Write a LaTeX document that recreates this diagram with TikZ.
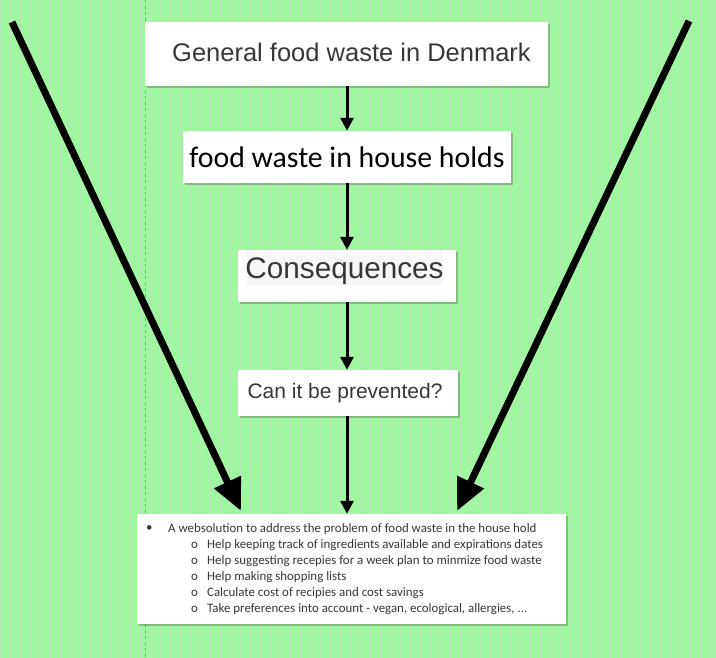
\documentclass[tikz,border=0pt]{standalone}
\usepackage{fontspec}
\setmainfont{Liberation Sans}
\newfontfamily\calib{Carlito}
\usetikzlibrary{arrows.meta,shadows}
\definecolor{bggreen}{RGB}{158,249,158}
\definecolor{gridgreen}{RGB}{178,232,178}
\definecolor{txtgray}{RGB}{55,55,55}
\tikzset{
  box/.style={draw=none,fill=white,inner sep=0pt,
    drop shadow={shadow xshift=2pt,shadow yshift=-2pt,opacity=0.35,fill=black!70}},
  flow/.style={-{Triangle[length=13pt,width=13pt]},line width=3pt,black},
  bigarrow/.style={-{Triangle[length=32pt,width=28pt]},line width=7pt,black},
}
\begin{document}
\begin{tikzpicture}[x=1pt,y=-1pt]
\useasboundingbox (0,0) rectangle (716,658);
\fill[bggreen] (0,0) rectangle (716,658);
\draw[gridgreen,line width=0.5pt,step=10] (0,0) grid (716,658);
\draw[black!40,dashed,line width=0.7pt] (145,0) -- (145,658);

% boxes
\node[box,minimum width=403pt,minimum height=64pt] (b1) at (346.5,54) {};
\node (b1t) at (351.5,52)
  {\fontsize{25.5}{28}\selectfont\color{txtgray}General food waste in Denmark};
\node[box,minimum width=328pt,minimum height=52pt] (b2) at (347,157)
  {\calib\fontsize{29.8}{32}\selectfont food waste in house holds};
\node[box,minimum width=218pt,minimum height=52pt] (b3) at (347,276) {};
\node[fill={rgb,255:red,246;green,247;blue,249},inner sep=0pt,minimum width=197pt,minimum height=35pt] (b3bg) at (344.5,268) {};
\node (b3t) at (344.5,271)
  {\fontsize{29.7}{30}\selectfont\color{txtgray}Consequences};
\node[box,minimum width=220pt,minimum height=46pt] (b4) at (348,393) {};
\node (b4t) at (345,393)
  {\fontsize{21}{24}\selectfont\color{txtgray}Can it be prevented?};
\node[box,minimum width=429pt,minimum height=110pt] (b5) at (351.5,569) {};
\node[anchor=north west,inner sep=0pt,align=left,font=\calib\fontsize{12.9}{16}\selectfont\color{txtgray}] (b5t) at (146,523)
  {\makebox[22pt][l]{\raisebox{0.5pt}{\textbullet}}A websolution to address the problem of food waste in the house hold\\
   \hspace*{45pt}\makebox[16pt][l]{o}Help keeping track of ingredients available and expirations dates\\
   \hspace*{45pt}\makebox[16pt][l]{o}Help suggesting recepies for a week plan to minmize food waste\\
   \hspace*{45pt}\makebox[16pt][l]{o}Help making shopping lists\\
   \hspace*{45pt}\makebox[16pt][l]{o}Calculate cost of recipies and cost savings\\
   \hspace*{45pt}\makebox[16pt][l]{o}Take preferences into account - vegan, ecological, allergies, ...};

% flow arrows
\draw[flow] (b1.south -| 347,0) -- (b2.north -| 347,0);
\draw[flow] (b2) -- (b3);
\draw[flow] (b3.south) -- (b4.north -| b3.south);
\draw[flow] (b4.south -| b3.south) -- (b5.north -| b3.south);
% big arrows
\coordinate (ls) at (12,22);
\coordinate (le) at (241,511);
\coordinate (rs) at (689,21);
\coordinate (re) at (457,511);
\draw[bigarrow] (ls) -- (le);
\draw[bigarrow] (rs) -- (re);
\end{tikzpicture}
\end{document}
